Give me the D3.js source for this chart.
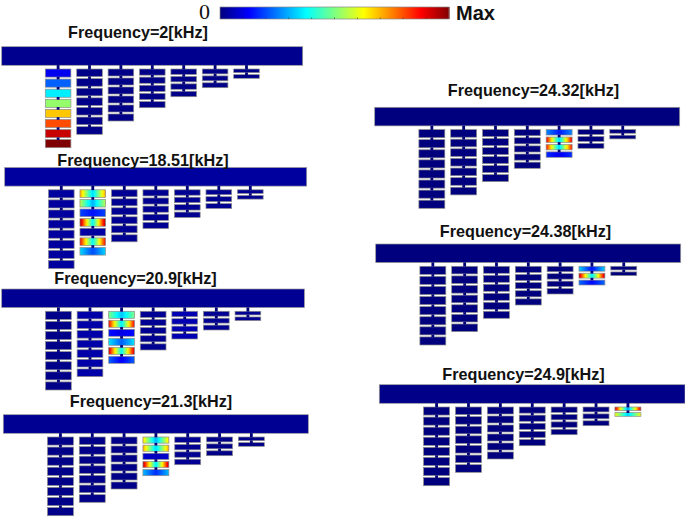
<!DOCTYPE html>
<html>
<head>
<meta charset="utf-8">
<script src="https://cdn.jsdelivr.net/npm/d3@7"></script>
<style>
html,body{margin:0;padding:0;background:#fff}
svg{display:block}
</style>
</head>
<body>
<svg id="chart" width="685" height="518"></svg>
<script>
// ---- data ----
const frequencies = ["2","18.51","20.9","21.3","24.32","24.38","24.9"];
const combLengths = [78.7,65.3,52,38.7,27.7,18.7,9.3];      // comb depth, px-equivalent units
const combCounts  = [8,7,6,5,4,3,2];
const panelLeft   = [1.7,4.7,1.7,3.3,374.7,375.7,379.3];
const panelTop    = [46.7,167.5,289,414.7,107.3,244,384.7];
const panelWidth  = [301,302,302.7,305,305,305,305.7];
const titleCentre = [138,143,135.5,151,533.5,525.5,523.5];
const titleBase   = [37.5,165.5,283.5,407,96,237,379.5];
const activeComb  = [0,1,2,3,4,5,6];
// [edge, centre] field level of each tine of the resonating comb
const modeEdge = [
  [0.11,0.22,0.36,0.52,0.68,0.80,0.93,1.0],
  [0.72,0.56,0.19,0.97,0.04,0.88,0.34],
  [0.50,0.88,0.14,0.35,0.92,0.22],
  [0.66,0.72,0.08,0.95,0.31],
  [0.26,0.90,0.86,0.17],
  [0.33,0.94,0.23],
  [0.92,0.62]
];
const modeCentre = [
  [0.11,0.22,0.36,0.52,0.68,0.80,0.93,1.0],
  [0.34,0.30,0.14,0.38,0.03,0.38,0.20],
  [0.32,0.36,0.10,0.22,0.38,0.12],
  [0.30,0.34,0.06,0.36,0.17],
  [0.15,0.34,0.34,0.11],
  [0.14,0.36,0.13],
  [0.28,0.33]
];
// idle level of the other combs in each panel
const idleLevels = [
  [0,0.01,0.01,0.01,0.01,0.01,0.01],
  [0.03,0,0.02,0.02,0.02,0.02,0.02],
  [0.01,0.04,0,0.02,0.05,0.02,0.02],
  [0.01,0.01,0.01,0,0.02,0.01,0.01],
  [0,0,0,0,0,0,0],
  [0,0,0,0,0,0,0],
  [0,0,0,0,0,0,0]
];
const barLevels = [0.015,0.03,0.02,0.02,0,0,0.01];
const colorStops = [0,0.125,0.375,0.625,0.875,1];
const colorNames = ["#00007f","#0000ff","#00ffff","#ffff00","#ff0000","#7f0000"];
const colorTicks = d3.range(1,10);

// ---- scales ----
const jet = d3.scaleLinear().domain(colorStops).range(colorNames).interpolate(d3.interpolateRgb).clamp(true);
const barH = 18.6;
const combX = d3.scalePoint().domain(d3.range(7)).range([43.6,232]);
const combW = 25.6, gap = 2, tineTop = 22.3;
const lenY = d3.scaleLinear().domain([0,100]).range([0,100]);

const svg = d3.select("#chart");
const defs = svg.append("defs");
defs.append("filter").attr("id","soft").attr("x","-5%").attr("y","-5%").attr("width","110%").attr("height","110%")
  .attr("color-interpolation-filters","sRGB")
  .append("feGaussianBlur").attr("stdDeviation",0.4);

// colour bar
const cbX = d3.scaleLinear().domain([0,1]).range([220,449]);
const cb = svg.append("g").attr("filter","url(#soft)");
cb.selectAll("rect").data(d3.range(0,1,1/229)).join("rect")
  .attr("x",d=>cbX(d)).attr("y",7).attr("width",1.6).attr("height",12).attr("fill",d=>jet(d));
cb.append("rect").attr("x",cbX(0)).attr("y",7).attr("width",cbX(1)-cbX(0)).attr("height",12)
  .attr("fill","none").attr("stroke","#888").attr("stroke-width",0.7);
cb.selectAll("line").data(colorTicks).join("line")
  .attr("x1",d=>cbX(d/10)).attr("x2",d=>cbX(d/10)).attr("y1",17.5).attr("y2",19)
  .attr("stroke","#333").attr("stroke-width",0.6);
svg.append("text").attr("x",199).attr("y",19).attr("font-family","Liberation Serif")
  .attr("font-size",22).attr("fill","#111").text("0");
svg.append("text").attr("x",456).attr("y",20).attr("font-family","Liberation Sans")
  .attr("font-weight","bold").attr("font-size",20).attr("fill","#111").text("Max");

// panels
let gid = 0;
frequencies.forEach((f,p)=>{
  const k = panelWidth[p]/301;
  const g = svg.append("g").attr("transform",`translate(${panelLeft[p]},${panelTop[p]})`);
  const art = g.append("g").attr("filter","url(#soft)");
  art.append("rect").attr("width",panelWidth[p]).attr("height",barH)
    .attr("fill",jet(barLevels[p])).attr("stroke","#999").attr("stroke-width",0.7);
  combCounts.forEach((n,c)=>{
    const L = combLengths[c];
    const h = (L-(n-1)*gap)/n;
    const x = combX(c)*k;
    const w = combW*k;
    const cx = x+w/2;
    const tines = d3.range(n);
    const yOf = i => tineTop+lenY(i*(h+gap));
    const active = activeComb[p]===c;
    tines.forEach(i=>{
      let fill;
      if(active){
        const id = "t"+(gid++);
        const e = modeEdge[p][i], m = modeCentre[p][i];
        const lg = defs.append("linearGradient").attr("id",id);
        d3.range(0,1.0001,0.05).forEach(t=>{
          const s = Math.pow(Math.abs(2*t-1),1.1);
          lg.append("stop").attr("offset",t).attr("stop-color",jet(m+(e-m)*s));
        });
        fill = `url(#${id})`;
      } else fill = jet(idleLevels[p][c]);
      art.append("rect").attr("x",x).attr("y",yOf(i)).attr("width",w).attr("height",h)
        .attr("fill",fill).attr("stroke","#8c8c8c").attr("stroke-width",0.7);
      const y0 = i===0 ? barH : yOf(i-1)+h;
      art.append("rect").attr("x",cx-1.4).attr("y",y0-0.2).attr("width",2.8).attr("height",yOf(i)-y0+0.5)
        .attr("fill","#00007a");
    });
  });
  svg.append("text").attr("x",titleCentre[p]).attr("y",titleBase[p]).attr("text-anchor","middle")
    .attr("font-family","Liberation Sans").attr("font-weight","bold").attr("font-size",16.2)
    .attr("fill","#111").text(`Frequency=${f}[kHz]`);
});
</script>
</body>
</html>
